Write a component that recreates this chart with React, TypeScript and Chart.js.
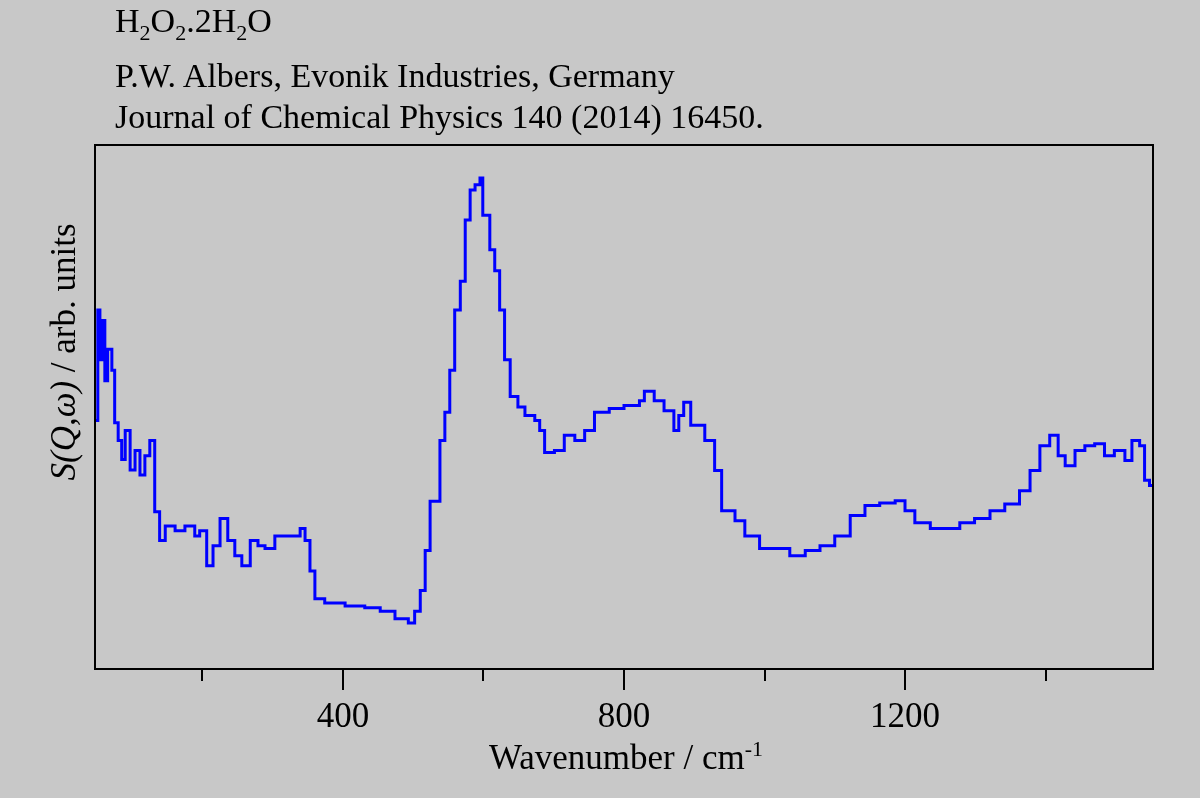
import { useEffect, useRef } from "react";
import { Chart, registerables, type Plugin } from "chart.js";

Chart.register(...registerables);

// wavenumber (cm-1) and intensity (arb. units, 0-100 over the plot height)
const wavenumbers = [
  47, 51, 54, 57, 61, 65, 71, 75, 80, 85, 90, 97, 104, 111, 118, 125, 132, 139, 147, 161,
  175, 189, 196, 206, 215, 225, 236, 246, 256, 268, 279, 289, 303, 317, 339, 346, 353, 360,
  374, 403, 431, 453, 474, 493, 502, 510, 517, 524, 538, 545, 552, 559, 567, 574, 581, 588,
  595, 599, 609, 616, 623, 630, 638, 649, 659, 673, 680, 687, 701, 715, 730, 744, 758, 779,
  800, 822, 829, 843, 857, 871, 878, 885, 895, 915, 929, 939, 958, 972, 993, 1015, 1036,
  1058, 1079, 1100, 1122, 1143, 1164, 1186, 1200, 1214, 1236, 1257, 1278, 1299, 1321, 1342,
  1363, 1378, 1392, 1406, 1418, 1428, 1442, 1456, 1470, 1484, 1498, 1513, 1523, 1534, 1541,
  1548, 1553,
];
const intensity = [
  47.4, 68.5, 59, 66.5, 55, 61, 57, 47, 43.6, 40, 45.5, 38, 41.7, 37, 40.7, 43.6, 30, 24.5,
  27.3, 26.4, 27.3, 25.4, 26.4, 19.7, 23.5, 28.7, 24.5, 21.6, 19.7, 24.5, 23.5, 23, 25.4,
  25.4, 26.8, 24.5, 18.7, 13.4, 12.6, 12, 11.7, 11, 9.6, 8.8, 11, 15, 22.6, 32, 43.6, 49, 57,
  68.5, 74, 85.7, 91.4, 92.4, 93.7, 86.6, 80, 76, 68.5, 59, 52, 50, 48.4, 47.4, 45.5, 41.3,
  41.7, 44.6, 43.6, 45.5, 49, 49.7, 50.3, 51.2, 53, 51.2, 49.3, 45.5, 48.4, 50.9, 46.5, 43.6,
  37.9, 30.2, 28.3, 25.4, 23, 23, 21.6, 22.6, 23.5, 25.4, 29.3, 31.2, 31.7, 32.1, 30.2, 27.9,
  26.8, 26.8, 27.9, 28.7, 30.2, 31.5, 34, 37.9, 42.6, 44.6, 40.7, 38.8, 41.7, 42.6, 43, 40.7,
  41.7, 39.8, 43.6, 42.6, 36, 35, 35,
];
const majorTicks = [400, 800, 1200];
const minorTicks = [200, 600, 1000, 1400];
const titleLines = ["P.W. Albers, Evonik Industries, Germany", "Journal of Chemical Physics 140 (2014) 16450."];

const FONT = '"Liberation Serif", "Times New Roman", serif';

const framePlugin: Plugin = {
  id: "frame",
  afterDraw(chart) {
    const { ctx, chartArea: a } = chart;
    const x = chart.scales.x;
    ctx.save();
    ctx.strokeStyle = "#000";
    ctx.lineWidth = 2;
    ctx.strokeRect(a.left, a.top, a.right - a.left, a.bottom - a.top);
    ctx.beginPath();
    for (const t of majorTicks) {
      const px = Math.round(x.getPixelForValue(t));
      ctx.moveTo(px, a.bottom);
      ctx.lineTo(px, a.bottom + 21);
    }
    for (const t of minorTicks) {
      const px = Math.round(x.getPixelForValue(t));
      ctx.moveTo(px, a.bottom);
      ctx.lineTo(px, a.bottom + 12);
    }
    ctx.stroke();
    ctx.fillStyle = "#000";
    ctx.font = `35px ${FONT}`;
    ctx.textAlign = "center";
    ctx.textBaseline = "middle";
    for (const t of majorTicks) ctx.fillText(String(t), x.getPixelForValue(t), 718);

    // x title with superscript
    const main = "Wavenumber / cm";
    const sup = "-1";
    ctx.font = `35px ${FONT}`;
    const w1 = ctx.measureText(main).width;
    ctx.font = `22px ${FONT}`;
    const w2 = ctx.measureText(sup).width;
    let sx = (a.left + a.right) / 2 - (w1 + w2) / 2 + 2;
    ctx.textAlign = "left";
    ctx.font = `35px ${FONT}`;
    ctx.fillText(main, sx, 760);
    ctx.font = `22px ${FONT}`;
    ctx.fillText(sup, sx + w1, 750);

    // y title, rotated, with italic part
    ctx.translate(66, 352);
    ctx.rotate(-Math.PI / 2);
    const it = "S(Q,\u03c9)";
    const rest = " / arb. units";
    ctx.font = `italic 35px ${FONT}`;
    const wi = ctx.measureText(it).width;
    ctx.font = `35px ${FONT}`;
    const wr = ctx.measureText(rest).width;
    sx = -(wi + wr) / 2;
    ctx.font = `italic 35px ${FONT}`;
    ctx.fillText(it, sx, 0);
    ctx.font = `35px ${FONT}`;
    ctx.fillText(rest, sx + wi, 0);
    ctx.restore();
  },
};

export default function App() {
  const canvasRef = useRef<HTMLCanvasElement>(null);

  useEffect(() => {
    if (!canvasRef.current) return;
    const chart = new Chart(canvasRef.current, {
      type: "line",
      data: {
        datasets: [
          {
            data: wavenumbers.map((w, i) => ({ x: w, y: intensity[i] })),
            borderColor: "#0000ff",
            borderWidth: 3,
            pointRadius: 0,
            stepped: true,
            fill: false,
          },
        ],
      },
      options: {
        animation: false,
        responsive: false,
        devicePixelRatio: 1,
        layout: { padding: { left: 95, right: 47, top: 145, bottom: 129 } },
        plugins: { legend: { display: false }, tooltip: { enabled: false } },
        scales: {
          x: { type: "linear", min: 47, max: 1553, display: false },
          y: { min: 0, max: 100, display: false },
        },
      },
      plugins: [framePlugin],
    });
    return () => chart.destroy();
  }, []);

  const lineStyle: React.CSSProperties = {
    position: "absolute",
    left: 115,
    fontFamily: FONT,
    fontSize: 34,
    color: "#000",
    whiteSpace: "nowrap",
    lineHeight: 1,
  };

  return (
    <div style={{ position: "fixed", left: 0, top: 0, width: 1200, height: 798, background: "#c8c8c8" }}>
      <canvas ref={canvasRef} width={1200} height={798} style={{ position: "absolute", left: 0, top: 0 }} />
      <div style={{ ...lineStyle, top: 4 }}>
        H<sub style={{ fontSize: 22 }}>2</sub>O<sub style={{ fontSize: 22 }}>2</sub>.2H
        <sub style={{ fontSize: 22 }}>2</sub>O
      </div>
      <div style={{ ...lineStyle, top: 59 }}>{titleLines[0]}</div>
      <div style={{ ...lineStyle, top: 100 }}>{titleLines[1]}</div>
    </div>
  );
}
